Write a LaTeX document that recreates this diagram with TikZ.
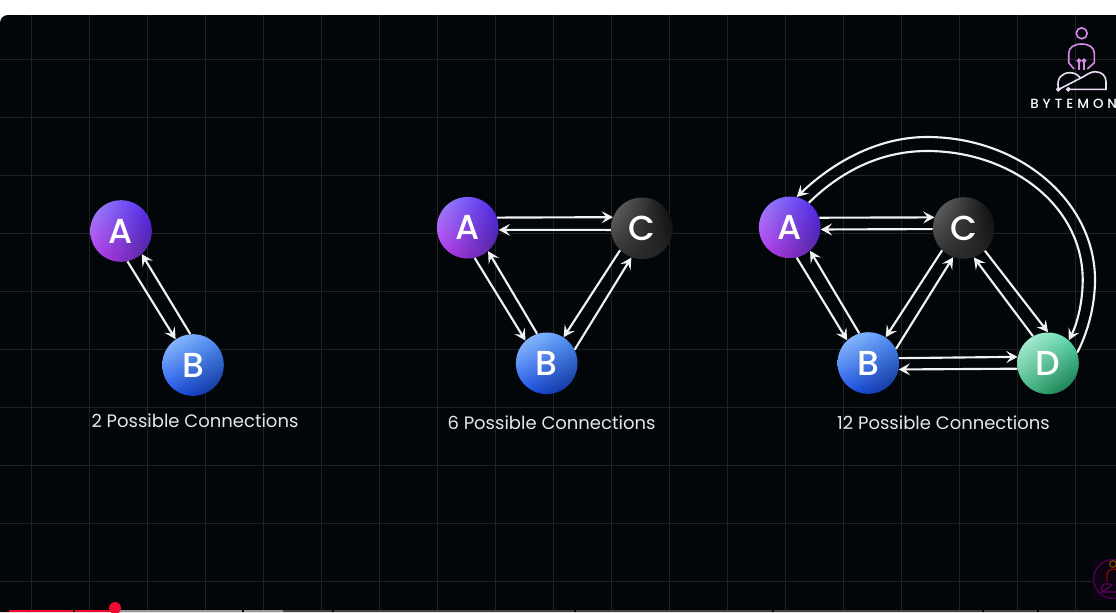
\documentclass[tikz,border=0pt]{standalone}
\usepackage{fontspec}
\setmainfont{Poppins}
\newfontfamily\lettersf{Poppins Medium}
\newfontfamily\brandsf{Poppins Medium}[LetterSpace=30]
\usetikzlibrary{arrows.meta,shadings}
\definecolor{bg}{HTML}{020609}
\definecolor{gridc}{HTML}{1F2225}
\definecolor{wire}{HTML}{F2F2F2}
\definecolor{lab}{HTML}{E6E6E6}
\definecolor{pinkl}{HTML}{D68CE6}
\definecolor{legc}{HTML}{EBDDF2}
\definecolor{barred}{HTML}{F00A32}
\definecolor{barlit}{HTML}{999999}
\definecolor{bardark}{HTML}{454545}
\definecolor{aul}{HTML}{9C8CF8}\definecolor{aur}{HTML}{5024F4}\definecolor{all}{HTML}{C038F4}\definecolor{alr}{HTML}{4E2490}
\definecolor{bul}{HTML}{A0CCFF}\definecolor{bur}{HTML}{4A8EFA}\definecolor{bll}{HTML}{1E58F4}\definecolor{blr}{HTML}{0A2888}
\definecolor{cul}{HTML}{707070}\definecolor{cur}{HTML}{060606}\definecolor{cll}{HTML}{2E2E2E}\definecolor{clr}{HTML}{222222}
\definecolor{dul}{HTML}{C4F2E0}\definecolor{dur}{HTML}{58DCAC}\definecolor{dll}{HTML}{48C088}\definecolor{dlr}{HTML}{0C6840}
\tikzset{
  ball/.style={circle,minimum size=46.2pt,inner sep=0pt,text=white,font=\lettersf\fontsize{26}{26}\selectfont},
  ballA/.style={ball,shade,upper left=aul,upper right=aur,lower left=all,lower right=alr},
  ballB/.style={ball,shade,upper left=bul,upper right=bur,lower left=bll,lower right=blr},
  ballC/.style={ball,shade,upper left=cul,upper right=cur,lower left=cll,lower right=clr},
  ballD/.style={ball,shade,upper left=dul,upper right=dur,lower left=dll,lower right=dlr},
  conn/.style={draw=wire,line width=1.6pt,-{Stealth[length=8.5pt,width=9pt,inset=3.5pt]}},
  caption/.style={text=lab,font=\fontsize{13.5}{13.5}\selectfont,inner sep=0pt},
  gridline/.style={draw=gridc,line width=0.75pt},
  logoline/.style={draw=pinkl,line width=1.2pt},
  legline/.style={draw=legc,line width=1.2pt},
}
\begin{document}
\begin{tikzpicture}[x=0.75pt,y=-0.75pt]
\useasboundingbox (0,0) rectangle (1116,612);
\clip (0,0) rectangle (1116,612);
% page and panel
\fill[white] (0,0) rectangle (1116,612);
\fill[bg] (0,612) -- (0,23) arc[start angle=180,end angle=90,radius=6pt] -- (1116,15) -- (1116,612) -- cycle;
% grid
\foreach \gx in {31,89,...,1100} {\draw[gridline] (\gx,15) -- (\gx,612);}
\foreach \gy in {59,117,...,590} {\draw[gridline] (0,\gy) -- (1116,\gy);}
% progress bar
\fill[barred] (9,610) rectangle (73,612);
\fill[barred] (75,610) rectangle (115,612);
\fill[barlit] (115,610) rectangle (242,612);
\fill[barlit] (244,610) rectangle (283,612);
\fill[bardark] (283,610) rectangle (332,612);
\fill[bardark] (334,610) rectangle (574,612);
\fill[bardark] (576,610) rectangle (772,612);
\fill[bardark] (774,610) rectangle (982,612);
\fill[bardark] (984,610) rectangle (1037,612);
\fill[bardark] (1039,610) rectangle (1116,612);
\fill[barred] (115,608) circle[radius=4.5pt];
% panel 1
\node[ballA] (a1) at (121,231) {A};
\node[ballB] (b1) at (193,365) {B};
\draw[conn] (a1.-78) -- (b1.124);
\draw[conn] (b1.95) -- (a1.-48);
\node[caption] (t1) at (195,421) {2 Possible Connections};
% panel 2
\node[ballA] (a2) at (467.7,227.7) {A};
\node[ballC] (c2) at (642,228.3) {C};
\node[ballB] (b2) at (546.7,363.3) {B};
\draw[conn] (a2.19) -- (c2.159);
\draw[conn] (c2.183) -- (a2.-4);
\draw[conn] (a2.-77) -- (b2.133.6);
\draw[conn] (b2.108) -- (a2.-49);
\draw[conn] (c2.225) -- (b2.57);
\draw[conn] (b2.26) -- (c2.250);
\node[caption] (t2) at (551.5,423) {6 Possible Connections};
% panel 3
\node[ballA] (a3) at (789.7,227.3) {A};
\node[ballC] (c3) at (963.7,228) {C};
\node[ballB] (b3) at (868.3,363) {B};
\node[ballD] (d3) at (1048,363.3) {D};
\draw[conn] (a3.-77) -- (b3.133.6);
\draw[conn] (b3.107) -- (a3.-49);
\draw[conn] (a3.18) -- (c3.160);
\draw[conn] (c3.182.5) -- (a3.-4);
\draw[conn] (c3.226) -- (b3.56.5);
\draw[conn] (b3.27.4) -- (c3.250.6);
\draw[conn] (c3.-47.7) -- (d3.90.5);
\draw[conn] (d3.119) -- (c3.-71.7);
\draw[conn] (b3.9) -- (d3.168);
\draw[conn] (d3.190.6) -- (b3.-12);
\draw[conn] (d3.20) .. controls (1088,332) and (1095,305) .. (1095,280)
  .. controls (1095,201) and (1019.4,137) .. (927,137)
  .. controls (875,137) and (830,165) .. (a3.77.5);
\draw[conn] (a3.52) .. controls (840,172) and (880,151) .. (927,151)
  .. controls (1010,151) and (1082.7,205) .. (1082.7,280)
  .. controls (1082.7,300) and (1078,322) .. (d3.48);
\node[caption] (t3) at (943.5,423) {12 Possible Connections};
% logo
\draw[logoline] (1081.7,33.3) circle[radius=4.1pt];
\draw[logoline] (1074,69) -- (1068.7,62.7) -- (1068.7,53.3) .. controls (1068.7,47.5) and (1074,44) .. (1081.7,44)
  .. controls (1089,44) and (1094.3,47.5) .. (1094.3,53.3) -- (1094.3,62.7) -- (1087.3,69);
\draw[logoline] (1079,62.2) -- (1079,70);
\draw[logoline] (1084,62.2) -- (1084,70);
\draw[logoline] (1079,60.7) circle[radius=1.1pt];
\draw[logoline] (1084,60.7) circle[radius=1.1pt];
\draw[legline] (1058.3,88) .. controls (1056.5,78) and (1062,72.7) .. (1070,72.7) .. controls (1075,72.7) and (1078,75) .. (1080.7,78.3);
\draw[legline] (1059.5,89) -- (1083.3,76.7) .. controls (1087,74.5) and (1091,71.7) .. (1095,71.7)
  .. controls (1102,71.7) and (1106,76) .. (1106,81.7) -- (1106,89.3) -- (1070,89.3);
\draw[legline] (1058.3,89.3) circle[radius=1.1pt];
\draw[legline] (1068.3,89.3) circle[radius=1.1pt];
\node[anchor=west,inner sep=0pt,text=white,font=\brandsf\fontsize{10}{10}\selectfont] (brand) at (1030,103.8) {BYTEMON};
% small channel badge
\fill[black!70!violet!30!bg] (1093,559) rectangle (1116,600);
\draw[draw=violet!70!black,line width=0.8pt] (1113,579) circle[radius=14.5pt];
\draw[draw=orange!60!black,line width=0.7pt] (1113,564) circle[radius=2.5pt];
\draw[draw=red!60!black,line width=0.8pt] (1107,581) -- (1107,575) arc[start angle=180,end angle=0,radius=4.5pt] ;
\draw[draw=violet!80!black,line width=0.8pt] (1102,591) .. controls (1100,584) and (1106,582) .. (1112,585) -- (1102,592) -- (1116,592);
\end{tikzpicture}
\end{document}
